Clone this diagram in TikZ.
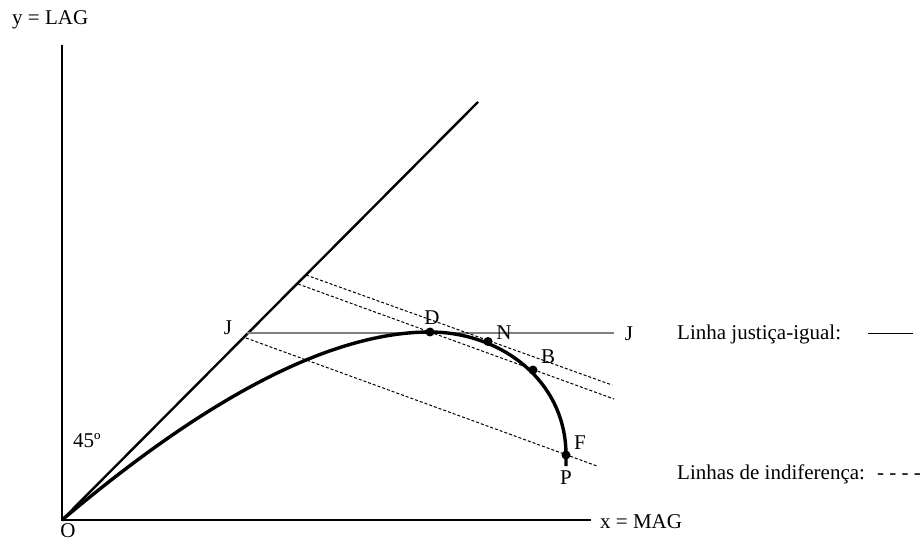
\documentclass[tikz,border=0pt]{standalone}
\usepackage{fontspec}
\setmainfont{Liberation Serif}
\begin{document}
\begin{tikzpicture}[x=1pt,y=-1pt,
  axis/.style={line width=2.4pt,black},
  curve/.style={line width=3.4pt,black},
  indiff/.style={line width=1pt,dash pattern=on 3pt off 2pt,black},
  justice/.style={line width=1.8pt,gray},
  lbl/.style={font=\fontsize{21}{25}\selectfont,inner sep=0pt},
  dot/.style={circle,fill=black,inner sep=0pt,minimum size=9pt}]
\useasboundingbox (0,0) rectangle (922,540);
% axes
\coordinate (O) at (62,520);
\coordinate (ytop) at (62,45);
\coordinate (xend) at (591,520);
\coordinate (diag) at (478,102);
\draw[axis] (ytop) -- (O) -- (xend);
\draw[axis] (O) -- (diag);
\node[lbl,anchor=west] (ylab) at (12,20) {y = LAG};
\node[lbl,anchor=west] (xlab) at (600,522) {x = MAG};
\node[lbl] (Olab) at (68,531) {O};
\node[lbl] (ang) at (87,441) {45º};
% justice line
\coordinate (Jl) at (247,333);
\coordinate (Jr) at (614,333);
\draw[justice] (Jl) -- (Jr);
\node[lbl] (J1) at (228,328) {J};
\node[lbl] (J2) at (629,334) {J};
% indifference lines
\coordinate (i1a) at (306,275);
\coordinate (i1b) at (612,385);
\coordinate (i2a) at (298,284);
\coordinate (i2b) at (614,399);
\coordinate (i3a) at (246,338);
\coordinate (i3b) at (597,466);
\draw[indiff] (i1a) -- (i1b);
\draw[indiff] (i2a) -- (i2b);
\draw[indiff] (i3a) -- (i3b);
% curve
\coordinate (Dp) at (430,332);
\coordinate (Fp) at (566,455);
\coordinate (Pend) at (566,466);
\draw[curve] (O) .. controls (190,412) and (320,332) .. (Dp)
  .. controls (500,332) and (566,380) .. (Fp) -- (Pend);
\node[dot] (D) at (Dp) {};
\node[dot] (N) at (488,341.5) {};
\node[dot] (B) at (533,370) {};
\node[dot] (F) at (Fp) {};
\node[lbl] (Dl) at (432,318) {D};
\node[lbl] (Nl) at (504,333) {N};
\node[lbl] (Bl) at (548,357) {B};
\node[lbl] (Fl) at (580,443) {F};
\node[lbl] (Pl) at (566,478) {P};
% legend
\node[lbl,anchor=west] (leg1) at (677,334) {Linha justiça-igual:};
\coordinate (ls) at (868,333);
\coordinate (le) at (913,333);
\draw[line width=0.9pt] (ls) -- (le);
\node[lbl,anchor=west] (leg2) at (677,474) {Linhas de indiferença: \ - - - -};
\end{tikzpicture}
\end{document}
